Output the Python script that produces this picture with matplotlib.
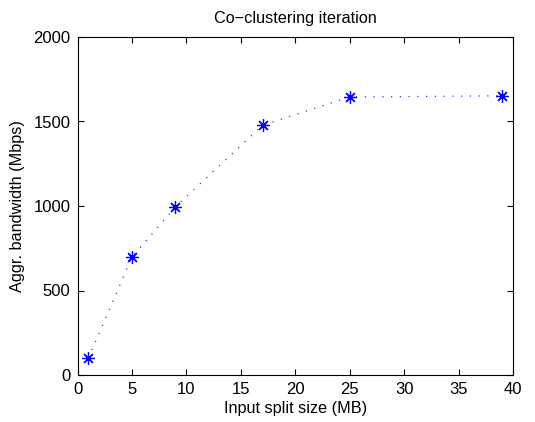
import matplotlib.pyplot as plt

plt.rcParams["font.family"] = ["Liberation Sans", "DejaVu Sans"]

split_size = [1, 5, 9, 17, 25, 39]
bandwidth = [100, 698, 995, 1478, 1645, 1652]

fig = plt.figure(figsize=(5.35, 4.22), dpi=100)
ax = fig.add_axes([77.5 / 535, 1 - 375 / 422, (513 - 77.5) / 535, (375 - 37) / 422])

# dotted connecting line, then the asterisk markers on top
ax.plot(split_size, bandwidth, linestyle=(0, (1, 6)), color="blue", linewidth=0.9, alpha=0.8)
ax.plot(split_size, bandwidth, linestyle="none", color="blue",
        marker=(8, 2, 0), markersize=9, markeredgewidth=0.9)

ax.set_xlim(0, 40)
ax.set_ylim(0, 2000)
ax.set_xticks(range(0, 41, 5))
ax.set_yticks(range(0, 2001, 500))
ax.tick_params(direction="in", top=True, right=True, labelsize=12, length=4, pad=5)
for s in ax.spines.values():
    s.set_linewidth(0.8)

ax.set_xlabel("Input split size (MB)", fontsize=11.7, labelpad=3)
ax.set_ylabel("Aggr. bandwidth (Mbps)", fontsize=11.7, labelpad=6)
ax.set_title("Co\u2212clustering iteration", fontsize=11.7, pad=10)

fig.savefig("out.png", dpi=100)
